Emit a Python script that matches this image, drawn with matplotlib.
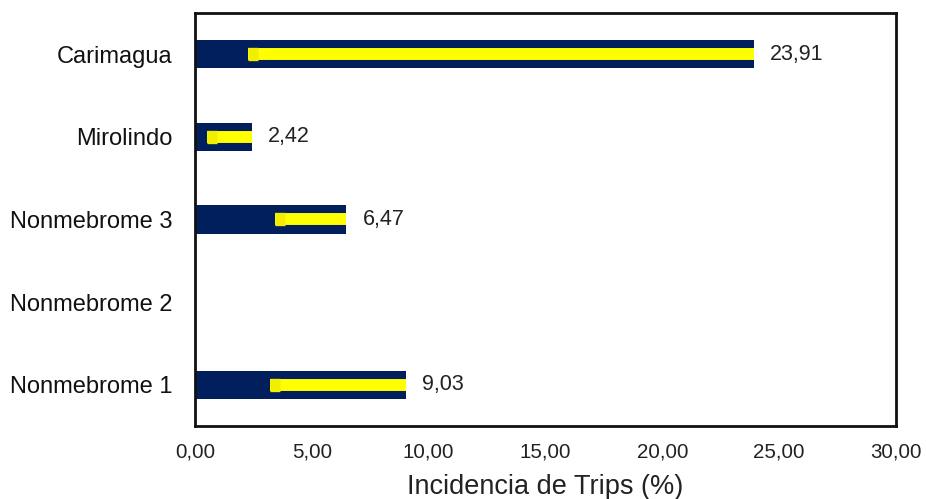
import matplotlib
matplotlib.use("Agg")
import matplotlib.pyplot as plt
import numpy as np

plt.rcParams["font.family"] = ["Liberation Sans", "DejaVu Sans"]

# varieties, bottom to top
varieties = ["Nonmebrome 1", "Nonmebrome 2", "Nonmebrome 3", "Mirolindo", "Carimagua"]
incidence = [9.03, 0.0, 6.47, 2.42, 23.91]
err_minus = [5.82, 0.0, 3.05, 1.91, 21.64]

NAVY = "#001F5C"
YELLOW = "#FFFF00"

fig = plt.figure(figsize=(9.26, 4.99), dpi=100)
ax = fig.add_axes([0.2106, 0.1463, 0.7570, 0.8277])

y = np.arange(len(varieties))
ax.barh(y, incidence, height=0.34, color=NAVY, zorder=2)

# minus-only error bars: yellow line from (value - err) to value, cap at the low end
for yi, v, e in zip(y, incidence, err_minus):
    if v <= 0:
        continue
    lo = v - e
    ax.hlines(yi, lo, v, colors=YELLOW, linewidth=8.6, zorder=3)
    ax.hlines(yi, lo, lo + 0.42, colors="#F2EE00", linewidth=9.6, zorder=4)
    ax.text(v + 0.7, yi, f"{v:.2f}".replace(".", ","), va="center",
            ha="left", fontsize=15.5, color="#222222")

ax.set_xlim(0, 30)
ax.set_ylim(-0.5, len(varieties) - 0.5)
ax.set_xticks(np.arange(0, 31, 5))
ax.set_xticklabels([f"{t:.2f}".replace(".", ",") for t in np.arange(0, 31, 5)],
                   fontsize=14.8, color="#222222")
ax.set_yticks(y)
ax.set_yticklabels(varieties, fontsize=17, color="#111111")
ax.tick_params(axis="x", length=0, pad=12)
ax.tick_params(axis="y", length=0, pad=16)
ax.set_xlabel("Incidencia de Trips (%)", fontsize=19.5, color="#222222", labelpad=9)

for s in ax.spines.values():
    s.set_linewidth(2)
    s.set_color("#111111")

fig.savefig("out.png", dpi=100)
